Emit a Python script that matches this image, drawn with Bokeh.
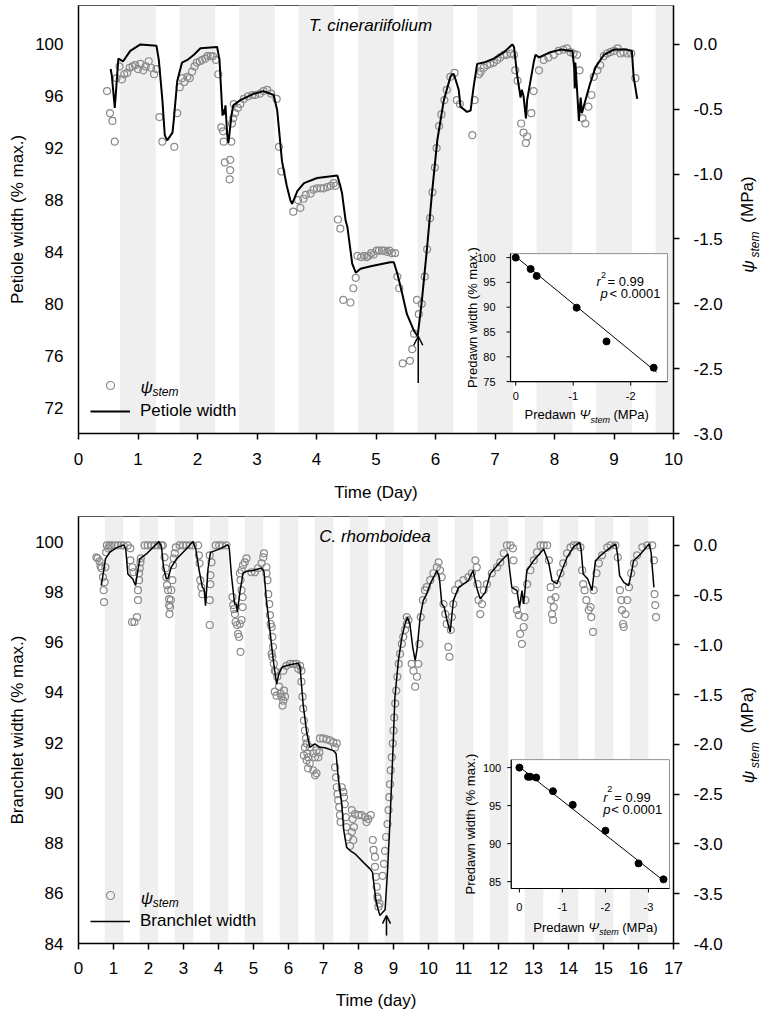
import numpy as np
from bokeh.plotting import figure
from bokeh.models import (Range1d, LinearAxis, FixedTicker, NumeralTickFormatter,
                          Label, Arrow, OpenHead, Legend, LegendItem)
from bokeh.layouts import column, row
from bokeh.embed import file_html
from bokeh.resources import INLINE
from bokeh.core.properties import value

FONT = "Liberation Sans"

# ---------------- Panel A: T. cinerariifolium ----------------
a_line_t = [0.54, 0.56, 0.61, 0.67, 0.75, 0.87, 1.04, 1.31, 1.35, 1.41,
            1.45, 1.49, 1.58, 1.60, 1.66, 1.74, 1.83, 1.94, 2.05, 2.33,
            2.37, 2.42, 2.43, 2.45, 2.47, 2.50, 2.52, 2.57, 2.60, 2.72,
            2.95, 3.11, 3.28, 3.34, 3.42, 3.50, 3.56, 3.59, 3.68, 3.79,
            4.01, 4.35, 4.40, 4.43, 4.49, 4.52, 4.60, 4.66, 4.74, 4.91,
            5.24, 5.30, 5.36, 5.44, 5.52, 5.64, 5.70, 5.77, 5.86, 5.94,
            6.03, 6.14, 6.25, 6.28, 6.31, 6.39, 6.42, 6.53, 6.59, 6.64,
            6.70, 6.81, 6.98, 7.15, 7.29, 7.32, 7.37, 7.43, 7.45, 7.48,
            7.52, 7.54, 7.57, 7.65, 7.68, 7.74, 7.93, 8.10, 8.30, 8.33,
            8.34, 8.35, 8.37, 8.41, 8.44, 8.46, 8.52, 8.60, 8.69, 8.83,
            9.00, 9.22, 9.30, 9.33, 9.39]
a_line_w = [98.1, 97.6, 95.1, 98.9, 98.7, 99.5, 100.0, 99.9, 98.8, 95.7,
            93.0, 92.6, 93.2, 94.1, 97.2, 98.6, 98.8, 99.2, 99.7, 99.8,
            98.8, 94.5, 95.0, 94.6, 95.3, 93.0, 92.4, 94.5, 95.3, 95.7,
            96.2, 96.4, 96.1, 94.9, 91.0, 89.1, 88.0, 87.7, 88.7, 89.3,
            89.7, 89.9, 89.1, 88.5, 86.4, 85.9, 83.1, 82.4, 82.7, 82.9,
            83.2, 83.2, 82.3, 80.8, 79.2, 77.9, 77.5, 80.2, 84.4, 88.5,
            92.6, 95.7, 97.5, 97.7, 97.7, 96.5, 95.2, 94.8, 94.9, 96.7,
            98.5, 98.6, 98.9, 99.4, 100.0, 99.8, 97.7, 95.9, 96.5, 96.0,
            94.3, 95.7, 96.5, 98.6, 99.2, 99.0, 99.4, 99.6, 99.5, 98.25,
            96.6, 98.6, 97.2, 94.1, 95.9, 94.7, 95.7, 97.0, 98.25, 99.2,
            99.6, 99.6, 99.5, 97.5, 95.8]

a_psi_t = [0.48, 0.53, 0.57, 0.61, 0.64, 0.69, 0.73, 0.77, 0.82, 0.86,
           0.91, 0.95, 1.00, 1.04, 1.09, 1.13, 1.18, 1.22, 1.27, 1.31,
           1.36, 1.41, 1.61, 1.66, 1.70, 1.74, 1.78, 1.83, 1.87, 1.91,
           1.95, 1.99, 2.04, 2.08, 2.13, 2.17, 2.22, 2.26, 2.31, 2.35,
           2.40, 2.43, 2.44, 2.46, 2.55, 2.55, 2.54, 2.57, 2.58, 2.60,
           2.61, 2.63, 2.68, 2.72, 2.78, 2.85, 2.92, 2.97, 3.05, 3.11,
           3.17, 3.24, 3.33, 3.37, 3.41, 3.61, 3.73, 3.69, 3.78, 3.82,
           3.90, 3.95, 4.01, 4.07, 4.12, 4.18, 4.24, 4.29, 4.32, 4.36,
           4.40, 4.45, 4.57, 4.62, 4.66, 4.69, 4.75, 4.80, 4.84, 4.88,
           4.92, 4.96, 5.01, 5.05, 5.10, 5.14, 5.19, 5.23, 5.27, 5.32,
           5.36, 5.39, 5.45, 5.57, 5.61, 5.64, 5.69, 5.72, 5.77, 5.82,
           5.86, 5.91, 5.95, 5.99, 6.02, 6.06, 6.10, 6.15, 6.19, 6.25,
           6.32, 6.36, 6.41, 6.62, 6.66, 6.73, 6.76, 6.81, 6.87, 6.92,
           6.98, 7.04, 7.09, 7.15, 7.20, 7.27, 7.32, 7.34, 7.38, 7.44,
           7.48, 7.54, 7.52, 7.61, 7.65, 7.74, 7.82, 7.90, 7.99, 8.07,
           8.15, 8.21, 8.27, 8.32, 8.38, 8.42, 8.47, 8.52, 8.57, 8.62,
           8.66, 8.72, 8.77, 8.83, 8.88, 8.94, 9.00, 9.06, 9.11, 9.16,
           9.22, 9.29, 9.36]
a_psi = [-0.36, -0.53, -0.59, -0.75, -0.26, -0.17, -0.27, -0.23, -0.22, -0.18,
         -0.17, -0.16, -0.19, -0.15, -0.20, -0.17, -0.13, -0.18, -0.23, -0.19,
         -0.56, -0.75, -0.79, -0.53, -0.33, -0.26, -0.29, -0.25, -0.26, -0.21,
         -0.17, -0.14, -0.13, -0.12, -0.11, -0.09, -0.09, -0.09, -0.12, -0.23,
         -0.64, -0.67, -0.75, -0.91, -0.89, -0.97, -1.04, -0.75, -0.61, -0.57,
         -0.46, -0.53, -0.49, -0.46, -0.42, -0.40, -0.39, -0.39, -0.38, -0.36,
         -0.35, -0.38, -0.42, -0.79, -0.98, -1.29, -1.26, -1.20, -1.19, -1.16,
         -1.15, -1.12, -1.11, -1.11, -1.11, -1.10, -1.09, -1.07, -1.09, -1.35,
         -1.42, -1.97, -1.99, -1.88, -1.80, -1.63, -1.64, -1.63, -1.64, -1.63,
         -1.61, -1.62, -1.59, -1.59, -1.59, -1.59, -1.60, -1.59, -1.61, -1.61,
         -1.79, -1.88, -2.46, -2.44, -2.35, -2.23, -1.97, -2.08, -2.00, -1.79,
         -1.58, -1.34, -1.14, -0.95, -0.80, -0.63, -0.54, -0.43, -0.35, -0.25,
         -0.22, -0.43, -0.46, -0.70, -0.43, -0.23, -0.21, -0.18, -0.16, -0.15,
         -0.14, -0.12, -0.10, -0.08, -0.08, -0.07, -0.08, -0.20, -0.28, -0.61,
         -0.68, -0.71, -0.76, -0.53, -0.36, -0.20, -0.12, -0.10, -0.08, -0.05,
         -0.04, -0.03, -0.06, -0.07, -0.08, -0.20, -0.57, -0.61, -0.48, -0.39,
         -0.25, -0.20, -0.16, -0.09, -0.07, -0.06, -0.05, -0.03, -0.07, -0.06,
         -0.07, -0.07, -0.26]

a_night_start = [0.7, 1.7, 2.7, 3.7, 4.7, 5.7, 6.7, 7.7, 8.7, 9.7]
a_night_end = [1.3, 2.3, 3.3, 4.3, 5.3, 6.3, 7.3, 8.3, 9.3, 10.3]

a_pd_psi = [0.0, -0.26, -0.365, -1.06, -1.58, -2.40]
a_pd_w = [100.0, 97.7, 96.3, 89.9, 83.1, 77.8]
a_fit_psi = [0.0, -2.45]
a_fit_w = [100.2, 76.9]
a_pd_xticks = [0, -1, -2]
a_pd_yticks = [75, 80, 85, 90, 95, 100]
a_arrow_t, a_arrow_from, a_arrow_to = 5.71, 73.9, 77.5

# ---------------- Panel B: C. rhomboidea ----------------
b_line_t = [0.65, 0.72, 0.77, 0.89, 1.08, 1.29, 1.35, 1.41, 1.55, 1.63,
            1.68, 1.75, 1.94, 2.13, 2.30, 2.37, 2.43, 2.51, 2.56, 2.65,
            2.80, 3.08, 3.27, 3.35, 3.44, 3.54, 3.59, 3.63, 3.70, 3.77,
            4.04, 4.27, 4.31, 4.37, 4.46, 4.51, 4.54, 4.61, 4.70, 4.80,
            4.99, 5.23, 5.30, 5.37, 5.47, 5.56, 5.66, 5.73, 5.83, 6.04,
            6.28, 6.33, 6.42, 6.52, 6.61, 6.75, 6.90, 7.04, 7.28, 7.36,
            7.42, 7.52, 7.58, 7.66, 7.76, 7.90, 8.14, 8.33, 8.40, 8.44,
            8.50, 8.57, 8.61, 8.69, 8.76, 8.83, 8.90, 8.98, 9.04, 9.14,
            9.24, 9.33, 9.40, 9.47, 9.55, 9.62, 9.68, 9.76, 9.85, 9.95,
            10.05, 10.24, 10.31, 10.38, 10.45, 10.52, 10.62, 10.71, 10.86, 11.14,
            11.27, 11.40, 11.48, 11.62, 11.76, 12.04, 12.27, 12.32, 12.38, 12.53,
            12.60, 12.67, 12.72, 12.81, 13.00, 13.29, 13.43, 13.53, 13.67, 13.81,
            13.96, 14.15, 14.32, 14.36, 14.42, 14.55, 14.67, 14.77, 14.91, 15.20,
            15.35, 15.40, 15.46, 15.58, 15.72, 15.79, 15.86, 16.06, 16.30, 16.36,
            16.44]
b_line_w = [98.25, 98.85, 99.31, 99.57, 99.75, 99.87, 99.71, 98.71, 98.51, 98.25,
            98.71, 99.31, 99.51, 99.77, 100.0, 99.8, 98.98, 98.51, 98.55, 98.98,
            99.31, 99.71, 100.0, 99.71, 98.91, 98.18, 98.1, 97.45, 98.91, 99.57,
            99.71, 99.88, 99.7, 98.65, 97.52, 97.5, 97.19, 97.98, 98.74, 98.82,
            98.85, 98.95, 98.8, 97.65, 96.46, 95.33, 94.33, 94.76, 95.02, 95.10,
            95.16, 95.0, 93.5, 92.4, 91.81, 91.95, 91.81, 91.79, 91.68, 91.55,
            90.62, 89.56, 88.49, 87.83, 87.70, 87.57, 87.23, 86.97, 86.83, 86.37,
            85.70, 85.31, 85.11, 85.24, 85.34, 86.9, 88.89, 91.55, 93.8, 95.27,
            96.19, 96.72, 96.99, 96.7, 95.79, 95.26, 95.79, 96.99, 97.65, 97.92,
            98.32, 98.85, 98.58, 97.52, 97.4, 96.92, 96.39, 97.65, 98.18, 98.45,
            98.85, 98.05, 97.72, 97.98, 98.71, 99.18, 99.51, 98.85, 98.18, 98.05,
            97.38, 98.05, 97.52, 98.85, 99.24, 99.71, 99.18, 98.45, 98.32, 98.85,
            99.38, 99.80, 99.97, 99.7, 98.71, 98.51, 98.05, 99.24, 99.44, 99.77,
            99.91, 99.5, 98.65, 98.38, 98.25, 98.71, 99.24, 99.51, 99.91, 99.57,
            98.18]

b_psi_t = [0.51, 0.55, 0.60, 0.63, 0.66, 0.70, 0.72, 0.73, 0.75, 0.77,
           0.79, 0.81, 0.85, 0.89, 0.94, 1.03, 1.13, 1.22, 1.29, 1.41,
           1.48, 1.48, 1.54, 1.57, 1.53, 1.60, 1.67, 1.70, 1.70, 1.73,
           1.73, 1.75, 1.77, 1.78, 1.89, 1.98, 2.08, 2.18, 2.27, 2.37,
           2.41, 2.46, 2.49, 2.51, 2.53, 2.56, 2.59, 2.59, 2.60, 2.62,
           2.64, 2.65, 2.68, 2.70, 2.72, 2.75, 2.78, 2.89, 2.99, 3.08,
           3.18, 3.27, 3.42, 3.44, 3.46, 3.48, 3.51, 3.54, 3.75, 3.75,
           3.77, 3.77, 3.80, 3.75, 3.92, 4.02, 4.11, 4.23, 4.40, 4.42,
           4.44, 4.47, 4.49, 4.53, 4.56, 4.59, 4.63, 4.61, 4.66, 4.69,
           4.69, 4.66, 4.63, 4.61, 4.66, 4.70, 4.75, 4.80, 4.94, 5.04,
           5.13, 5.23, 5.28, 5.30, 5.37, 5.37, 5.40, 5.42, 5.45, 5.47,
           5.49, 5.52, 5.54, 5.56, 5.52, 5.54, 5.58, 5.61, 5.64, 5.68,
           5.73, 5.77, 5.80, 5.85, 5.90, 5.87, 5.83, 5.66, 5.61, 5.85,
           5.94, 6.04, 6.14, 6.23, 6.33, 6.28, 6.37, 6.37, 6.40, 6.42,
           6.44, 6.47, 6.50, 6.52, 6.54, 6.56, 6.47, 6.61, 6.71, 6.80,
           6.76, 6.90, 6.99, 7.09, 7.19, 7.28, 7.38, 7.33, 6.44, 6.52,
           6.56, 6.61, 6.71, 6.76, 6.80, 6.85, 6.88, 7.33, 7.36, 7.38,
           7.40, 7.42, 7.45, 7.47, 7.52, 7.57, 7.59, 7.61, 7.64, 7.49,
           7.66, 7.71, 7.76, 7.81, 7.83, 7.85, 7.87, 7.81, 7.90, 8.00,
           8.09, 8.19, 8.28, 8.35, 8.23, 8.41, 8.43, 8.47, 8.47, 8.50,
           8.52, 8.54, 8.57, 8.55, 8.60, 8.69, 8.73, 8.76, 8.79, 8.83,
           8.86, 8.88, 8.90, 8.92, 8.95, 8.98, 9.00, 9.02, 9.05, 9.08,
           9.11, 9.15, 9.19, 9.24, 9.28, 9.33, 9.38, 9.38, 9.43, 9.52,
           9.57, 9.62, 9.67, 9.71, 9.74, 9.78, 9.84, 9.90, 9.95, 10.05,
           10.14, 10.24, 10.29, 10.33, 10.38, 10.43, 10.48, 10.52, 10.57, 10.60,
           10.64, 10.67, 10.71, 10.76, 10.86, 11.00, 11.14, 11.24, 11.34, 11.38,
           11.40, 11.43, 11.48, 11.53, 11.58, 11.67, 11.81, 11.96, 12.05, 12.15,
           12.24, 12.34, 12.41, 12.43, 12.48, 12.53, 12.58, 12.62, 12.67, 12.72,
           12.74, 12.77, 12.82, 12.91, 13.01, 13.10, 13.20, 13.29, 13.39, 13.44,
           13.49, 13.50, 13.53, 13.56, 13.58, 13.63, 13.67, 13.77, 13.85, 13.96,
           14.06, 14.15, 14.25, 14.34, 14.39, 14.42, 14.46, 14.51, 14.58, 14.65,
           14.70, 14.63, 14.72, 14.80, 14.87, 14.96, 15.11, 15.20, 15.34, 15.41,
           15.47, 15.51, 15.53, 15.56, 15.58, 15.63, 15.68, 15.73, 15.79, 15.87,
           15.96, 16.11, 16.25, 16.39, 16.44, 16.46, 16.48, 16.50]
b_psi = [-0.12, -0.13, -0.16, -0.21, -0.23, -0.32, -0.45, -0.57, -0.37, -0.22,
         -0.07, 0.0, -0.03, 0.0, 0.0, 0.0, 0.0, 0.0, 0.0, 0.0,
         -0.03, -0.15, -0.22, -0.27, -0.77, -0.77, -0.72, -0.55, -0.45, -0.35,
         -0.28, -0.23, -0.17, -0.13, 0.0, 0.0, 0.0, 0.0, 0.0, 0.0,
         0.0, -0.12, -0.23, -0.32, -0.40, -0.45, -0.54, -0.60, -0.69, -0.62,
         -0.55, -0.45, -0.35, -0.20, -0.13, -0.08, -0.02, 0.0, 0.0, 0.0,
         0.0, 0.0, 0.0, -0.10, -0.18, -0.35, -0.42, -0.49, -0.80, -0.55,
         -0.39, -0.30, -0.17, -0.10, 0.0, 0.0, 0.0, 0.0, -0.52, -0.60,
         -0.64, -0.69, -0.77, -0.80, -0.89, -0.92, -1.07, -0.79, -0.75, -0.62,
         -0.52, -0.45, -0.35, -0.28, -0.25, -0.20, -0.17, -0.13, -0.27, -0.27,
         -0.23, -0.18, -0.12, -0.08, -0.22, -0.28, -0.35, -0.49, -0.59, -0.70,
         -0.79, -0.82, -0.92, -1.02, -1.09, -1.12, -1.19, -1.26, -1.27, -1.32,
         -1.42, -1.49, -1.52, -1.56, -1.52, -1.46, -1.61, -1.51, -1.47, -1.26,
         -1.21, -1.19, -1.19, -1.19, -1.21, -1.24, -1.26, -1.37, -1.52, -1.64,
         -1.76, -1.86, -1.94, -1.99, -2.09, -2.13, -2.03, -2.03, -2.09, -2.06,
         -2.13, -1.94, -1.94, -1.95, -1.96, -1.98, -1.99, -2.03, -2.11, -2.16,
         -2.24, -2.19, -2.26, -2.31, -2.29, -2.13, -2.08, -2.23, -2.33, -2.43,
         -2.50, -2.56, -2.63, -2.71, -2.43, -2.48, -2.53, -2.60, -2.73, -2.78,
         -2.83, -2.93, -3.02, -2.88, -2.75, -2.96, -2.83, -2.66, -2.70, -2.71,
         -2.71, -2.73, -2.75, -2.71, -2.78, -2.96, -3.06, -3.13, -3.23, -3.33,
         -3.43, -3.53, -3.63, -3.55, -3.60, -3.32, -3.20, -3.07, -2.93, -2.80,
         -2.66, -2.53, -2.40, -2.26, -2.13, -1.99, -1.86, -1.73, -1.59, -1.46,
         -1.32, -1.19, -1.09, -0.99, -0.92, -0.85, -0.79, -0.72, -0.75, -1.19,
         -1.26, -1.42, -1.32, -1.19, -0.99, -0.72, -0.55, -0.45, -0.42, -0.35,
         -0.28, -0.22, -0.17, -0.25, -0.32, -0.59, -0.69, -0.79, -1.02, -1.12,
         -0.85, -0.72, -0.59, -0.45, -0.39, -0.35, -0.32, -0.28, -0.15, -0.22,
         -0.39, -0.55, -0.69, -0.59, -0.45, -0.39, -0.28, -0.22, -0.17, -0.08,
         0.0, 0.0, -0.03, -0.15, -0.45, -0.65, -0.70, -0.89, -0.99, -0.82,
         -0.72, -0.55, -0.39, -0.25, -0.15, -0.07, 0.0, 0.0, 0.0, -0.15,
         -0.42, -0.55, -0.69, -0.75, -0.62, -0.52, -0.39, -0.28, -0.18, -0.08,
         -0.02, 0.0, 0.0, -0.02, -0.25, -0.39, -0.45, -0.55, -0.65, -0.72,
         -0.87, -0.62, -0.45, -0.28, -0.18, -0.10, -0.02, 0.0, 0.0, -0.12,
         -0.45, -0.55, -0.65, -0.79, -0.82, -0.69, -0.55, -0.42, -0.28, -0.18,
         -0.10, -0.02, 0.0, 0.0, -0.15, -0.49, -0.60, -0.72]

b_night_start = [0.75, 1.75, 2.75, 3.75, 4.75, 5.75, 6.75, 7.75, 8.75, 9.75,
                 10.75, 11.75, 12.75, 13.75, 14.75, 15.75]
b_night_end = [1.28, 2.28, 3.28, 4.28, 5.28, 6.28, 7.28, 8.28, 9.28, 10.28,
               11.28, 12.28, 13.28, 14.28, 15.28, 16.28]

b_pd_psi = [0.0, -0.20, -0.25, -0.39, -0.78, -1.24, -2.00, -2.77, -3.35]
b_pd_w = [100.0, 98.8, 98.8, 98.7, 96.9, 95.1, 91.7, 87.4, 85.3]
b_fit_psi = [0.0, -3.38]
b_fit_w = [100.1, 85.0]
b_pd_xticks = [0, -1, -2, -3]
b_pd_yticks = [85, 90, 95, 100]
b_arrow_t, b_arrow_from, b_arrow_to = 8.80, 84.32, 85.11

assert len(a_line_t) == len(a_line_w)
assert len(a_psi_t) == len(a_psi)
assert len(b_line_t) == len(b_line_w)
assert len(b_psi_t) == len(b_psi)

BAND = "#efefef"
PSI_COL = "#8a8a8a"
MAIN_W = 735      # main figure width; a 25px strip on the right holds the ψstem label
STRIP_W = 25


def style_axis(ax, size="17px"):
    ax.axis_line_color = "black"
    ax.axis_line_width = 1.5
    ax.major_tick_line_color = "black"
    ax.major_tick_line_width = 1.5
    ax.minor_tick_line_color = None
    ax.major_label_text_font = FONT
    ax.major_label_text_font_size = size
    ax.major_label_text_color = "black"
    ax.axis_label_text_font = FONT
    ax.axis_label_text_font_size = size
    ax.axis_label_text_font_style = "normal"
    ax.axis_label_text_color = "black"


def main_panel(height, mtop, mbot, x_end, yr, pr, xticks, yticks, pticks,
               xlabel, ylabel, tick_standoff, xlab_standoff):
    p = figure(width=MAIN_W, height=height, x_range=Range1d(0, x_end),
               y_range=Range1d(*yr), output_backend="svg", toolbar_location=None,
               min_border_left=78, min_border_right=MAIN_W - 673, min_border_top=mtop,
               min_border_bottom=mbot, background_fill_color="white",
               border_fill_color="white", outline_line_color="#555555",
               outline_line_width=1)
    p.grid.visible = False
    p.extra_y_ranges = {"psi": Range1d(*pr)}
    ax = p.xaxis[0]
    style_axis(ax)
    ax.ticker = FixedTicker(ticks=xticks)
    ax.axis_label = xlabel
    ax.major_tick_out = 6
    ax.major_tick_in = 0
    ax.major_label_standoff = tick_standoff
    ax.axis_label_standoff = xlab_standoff
    ay = p.yaxis[0]
    style_axis(ay)
    ay.ticker = FixedTicker(ticks=yticks)
    ay.axis_label = ylabel
    ay.major_tick_out = 0
    ay.major_tick_in = 0
    ay.major_label_standoff = 15
    ay.axis_label_standoff = 5
    ry = LinearAxis(y_range_name="psi", ticker=FixedTicker(ticks=pticks),
                    formatter=NumeralTickFormatter(format="0.0"))
    style_axis(ry)
    ry.major_tick_out = 6
    ry.major_tick_in = 0
    ry.major_label_standoff = 14
    p.add_layout(ry, "right")
    return p


def add_text(p, x, y, text, size="17px", style="normal", align="left",
             baseline="middle", angle=0.0):
    p.add_layout(Label(x=x, y=y, text=text, text_font=FONT, text_font_size=size,
                       text_font_style=style, text_align=align,
                       text_baseline=baseline, angle=angle, text_color="black"))


def right_label_strip(p, mtop, mbot, w_psi, w_stem, w_mpa):
    """Narrow strip to the right of a panel carrying the rotated 'ψstem (MPa)' title.
    Its frame is aligned with the panel frame and shares its left-axis range."""
    s = figure(width=STRIP_W, height=p.height, x_range=Range1d(0, STRIP_W),
               y_range=p.y_range, output_backend="svg",
               toolbar_location=None, x_axis_type=None, y_axis_type=None,
               min_border_left=0, min_border_right=0, min_border_top=mtop,
               min_border_bottom=mbot, outline_line_color=None,
               background_fill_color="white", border_fill_color="white")
    s.grid.visible = False
    add_text(s, 13, w_psi, "ψ", style="italic", align="center", angle=np.pi / 2)
    add_text(s, 19, w_stem, "stem", size="12px", style="italic", align="center",
             angle=np.pi / 2)
    add_text(s, 12, w_mpa, "(MPa)", align="center", angle=np.pi / 2)
    return s


def build_main(p, yr, nights_s, nights_e, line_t, line_w, psi_t, psi, lw, line_name):
    p.quad(left=nights_s, right=nights_e, bottom=yr[0], top=yr[1],
           fill_color=BAND, line_color=None)
    sc = p.scatter(psi_t, psi, marker="circle", size=7, fill_color=None,
                   line_color=PSI_COL, line_width=1.2, y_range_name="psi")
    ln = p.line(line_t, line_w, line_color="black", line_width=lw)
    leg = Legend(items=[LegendItem(label=" ", renderers=[sc]),
                        LegendItem(label=line_name, renderers=[ln])],
                 location=(12, 12), glyph_width=40, glyph_height=20,
                 label_height=20, label_standoff=10, spacing=6, padding=0,
                 margin=0, border_line_color=None, background_fill_alpha=0,
                 label_text_font=FONT, label_text_font_size="17px",
                 label_text_color="black")
    p.add_layout(leg)


def sub_text(sub, xs, ys, texts, size, style="normal", align="left",
             baseline="middle", dx=0, dy=0, angle=0.0):
    sub.text(x=xs, y=ys, text=texts, text_font=value(FONT), text_font_size=size,
             text_font_style=style, text_align=align, text_baseline=baseline,
             x_offset=dx, y_offset=dy, angle=angle, text_color="black")


def draw_inset(p, x_src, y_src, x_tgt, y_tgt, fw, fh, xticks, yticks,
               pd_psi, pd_w, fit_psi, fit_w, ytl_dx, ylab_dx, xtl_dy,
               xlab_dx, xlab_dy, st_dx, st_dy):
    sub = p.subplot(x_source=Range1d(*x_src), y_source=Range1d(*y_src),
                    x_target=Range1d(*x_tgt), y_target=Range1d(*y_tgt))
    x0, x1 = x_src
    y0, y1 = y_src
    ux = (x1 - x0) / fw
    uy = (y1 - y0) / fh
    sub.quad(left=[x0], right=[x1], bottom=[y0], top=[y1], fill_color="white",
             line_color="#909090", line_width=1)
    sub.line([x0, x0, x1], [y1, y0, y0], line_color="black", line_width=1.2)
    nx, ny = len(xticks), len(yticks)
    sub.segment(x0=xticks, y0=[y0] * nx, x1=xticks, y1=[y0 - 4 * uy] * nx,
                line_color="black", line_width=1)
    sub.segment(x0=[x0] * ny, y0=yticks, x1=[x0 - 4 * ux] * ny, y1=yticks,
                line_color="black", line_width=1)
    sub.line(fit_psi, fit_w, line_color="black", line_width=1)
    sub.scatter(pd_psi, pd_w, marker="circle", size=7, fill_color="black",
                line_color="black")
    sub_text(sub, [x0] * ny, yticks, [f"{v:g}" for v in yticks], "11px",
             align="right", dx=ytl_dx)
    sub_text(sub, xticks, [y0] * nx, [f"{v:g}" for v in xticks], "11px",
             align="center", dy=xtl_dy)
    sub_text(sub, [x0], [(y0 + y1) / 2], ["Predawn width (% max.)"], "13px",
             align="center", dx=ylab_dx, angle=np.pi / 2)
    # x-axis title: Predawn Ψstem (MPa)
    parts = [("Predawn", "13px", "normal", 0), ("Ψ", "13px", "italic", 0),
             ("stem", "9px", "italic", 5), ("(MPa)", "13px", "normal", 0)]
    for (txt, sz, st, sh), dx in zip(parts, xlab_dx):
        sub_text(sub, [x0], [y0], [txt], sz, style=st, dx=dx, dy=xlab_dy + sh)
    # statistics
    stats = [("r", "13px", "italic"), ("2", "9px", "normal"),
             ("= 0.99", "13px", "normal"), ("p", "13px", "italic"),
             ("< 0.0001", "13px", "normal")]
    for (txt, sz, st), dx, dy in zip(stats, st_dx, st_dy):
        sub_text(sub, [x0], [y1], [txt], sz, style=st, baseline="alphabetic",
                 dx=dx, dy=dy)


# ---- top panel
A_YR = (70, 103.0)
A_PR = (-3.0, 0.3)
p1 = main_panel(505, 5, 72, 10, A_YR, A_PR, list(range(0, 11)),
                [72, 76, 80, 84, 88, 92, 96, 100],
                [-3.0, -2.5, -2.0, -1.5, -1.0, -0.5, 0.0],
                "Time (Day)", "Petiole width (% max.)", 13, 15)
build_main(p1, A_YR, a_night_start, a_night_end, a_line_t, a_line_w,
           a_psi_t, a_psi, 2.0, "Petiole width")
p1.add_layout(Arrow(end=OpenHead(size=9, line_width=1.5, line_color="black"),
                    x_start=a_arrow_t, y_start=a_arrow_from, x_end=a_arrow_t,
                    y_end=a_arrow_to, line_width=1.5, line_color="black"))
add_text(p1, 4.91, 101.47, "T. cinerariifolium", style="italic", align="center")
add_text(p1, 1.042, 73.53, "ψ", style="italic")
add_text(p1, 1.244, 73.22, "stem", size="12px", style="italic")
draw_inset(p1, (0.09, -2.64), (75, 100.8), (7.261, 9.899), (74.0, 83.87), 157, 128,
           a_pd_xticks, a_pd_yticks, a_pd_psi, a_pd_w, a_fit_psi, a_fit_w,
           ytl_dx=-15, ylab_dx=-38, xtl_dy=14, xlab_dx=[14, 69, 80, 103], xlab_dy=33,
           st_dx=[86, 90.5, 97, 90, 99], st_dy=[28, 21, 28, 40, 40])
s1 = right_label_strip(p1, 5, 72, 82.87, 84.57, 88.04)

# ---- bottom panel
B_YR = (84, 101.0)
B_PR = (-4.0, 0.29)
p2 = main_panel(511, 11, 73, 17, B_YR, B_PR, list(range(0, 18)),
                [84, 86, 88, 90, 92, 94, 96, 98, 100],
                [-4.0, -3.5, -3.0, -2.5, -2.0, -1.5, -1.0, -0.5, 0.0],
                "Time (day)", "Branchlet width (% max.)", 12, 14)
build_main(p2, B_YR, b_night_start, b_night_end, b_line_t, b_line_w,
           b_psi_t, b_psi, 1.5, "Branchlet width")
p2.add_layout(Arrow(end=OpenHead(size=8, line_width=1.5, line_color="black"),
                    x_start=b_arrow_t, y_start=b_arrow_from, x_end=b_arrow_t,
                    y_end=b_arrow_to, line_width=1.5, line_color="black"))
add_text(p2, 8.47, 100.2, "C. rhomboidea", style="italic", align="center")
add_text(p2, 1.775, 85.79, "ψ", style="italic")
add_text(p2, 2.118, 85.63, "stem", size="12px", style="italic")
draw_inset(p2, (0.19, -3.49), (84.1, 101.05), (12.364, 16.886), (86.19, 91.32), 158, 129,
           b_pd_xticks, b_pd_yticks, b_pd_psi, b_pd_w, b_fit_psi, b_fit_w,
           ytl_dx=-10, ylab_dx=-41, xtl_dy=19, xlab_dx=[22, 77, 88, 111], xlab_dy=39,
           st_dx=[92, 96, 103, 92, 100], st_dy=[38, 29, 38, 50, 50])
s2 = right_label_strip(p2, 11, 73, 90.63, 91.50, 93.29)

layout = column(row(p1, s1), row(p2, s2))
open("out.html", "w").write(file_html(layout, INLINE))
